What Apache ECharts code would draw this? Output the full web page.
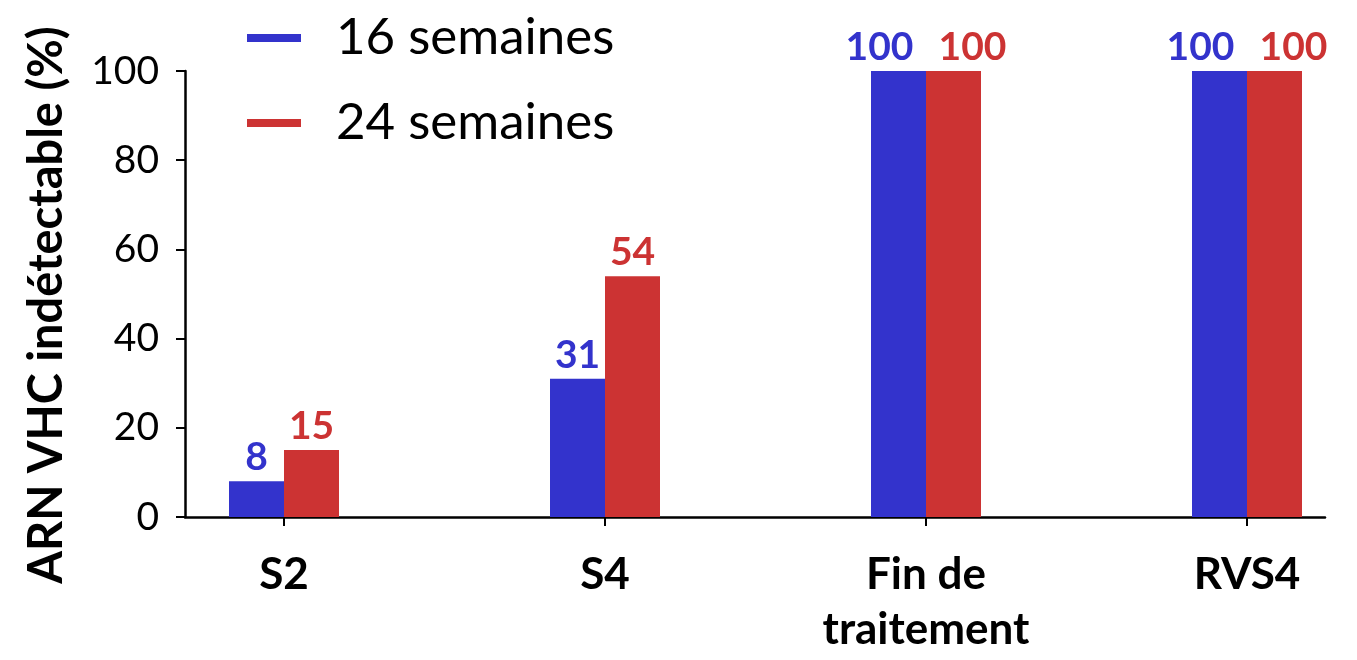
<!DOCTYPE html>
<html>
<head>
<meta charset="utf-8">
<script src="https://cdn.jsdelivr.net/npm/echarts@6/dist/echarts.min.js"></script>
<style>
  html, body { margin: 0; padding: 0; background: #fff; }
  #chart { width: 1357px; height: 660px; }
</style>
</head>
<body>
<div id="chart"></div>
<script>
// data
const categories = ['S2', 'S4', 'Fin de\ntraitement', 'RVS4']
const weeks16 = [8, 31, 100, 100]
const weeks24 = [15, 54, 100, 100]
const yTicks = [0, 20, 40, 60, 80, 100]

const FONT = 'Lato, "Open Sans", sans-serif'
const BLUE = '#3333CC'
const RED = '#CC3333'

const chart = echarts.init(document.getElementById('chart'))

const barLabel = color => ({
  show: true,
  position: 'top',
  distance: 4,
  color: color,
  fontFamily: FONT,
  fontWeight: 'bold',
  fontSize: 39
})

// wide labels (100) are pushed apart so they don't overlap
const withLabelShift = (values, dir) => values.map(v => ({
  value: v,
  label: { offset: [v >= 100 ? dir * 19 : 0, 0] }
}))

chart.setOption({
  animation: false,
  backgroundColor: '#fff',
  legend: {
    orient: 'vertical',
    left: 247,
    top: 8,
    padding: 0,
    itemWidth: 54,
    itemHeight: 8,
    itemGap: 25,
    icon: 'rect',
    textStyle: {
      fontFamily: FONT,
      fontSize: 51,
      lineHeight: 60,
      color: '#000',
      padding: [0, 0, 0, 30]
    },
    data: ['16 semaines', '24 semaines']
  },
  grid: [
    // axes frame
    { left: 185, right: 32, top: 71, bottom: 143, outerBoundsMode: 'none' },
    // bar layout, bands wider than the frame so the groups line up with the ticks
    { left: 123.5, width: 1284, top: 71, bottom: 143, outerBoundsMode: 'none' }
  ],
  xAxis: [
    {
      gridIndex: 0,
      type: 'value',
      min: 0,
      max: 1,
      axisLine: { show: true, lineStyle: { color: '#000', width: 2.5 } },
      axisTick: { show: false },
      axisLabel: { show: false },
      splitLine: { show: false }
    },
    {
      gridIndex: 1,
      type: 'category',
      data: categories,
      axisLine: { show: false },
      axisTick: { show: true, alignWithLabel: true, length: 9, lineStyle: { color: '#000', width: 2 } },
      axisLabel: {
        margin: 30,
        color: '#000',
        fontFamily: FONT,
        fontWeight: 'bold',
        fontSize: 44,
        lineHeight: 55,
        interval: 0
      },
      splitLine: { show: false }
    }
  ],
  yAxis: [
    {
      gridIndex: 0,
      type: 'value',
      min: yTicks[0],
      max: yTicks[yTicks.length - 1],
      interval: yTicks[1] - yTicks[0],
      name: 'ARN VHC indétectable (%)',
      nameLocation: 'middle',
      nameRotate: 90,
      nameGap: 115,
      nameTextStyle: {
        color: '#000',
        fontFamily: FONT,
        fontWeight: 'bold',
        fontSize: 47,
        padding: [0, 22, 0, 0]
      },
      axisLine: { show: true, lineStyle: { color: '#000', width: 2.5 } },
      axisTick: { show: true, length: 9, lineStyle: { color: '#000', width: 2 } },
      axisLabel: { margin: 26, color: '#000', fontFamily: FONT, fontSize: 39 },
      splitLine: { show: false }
    },
    {
      gridIndex: 1,
      type: 'value',
      min: yTicks[0],
      max: yTicks[yTicks.length - 1],
      show: false
    }
  ],
  series: [
    {
      name: '16 semaines',
      type: 'bar',
      xAxisIndex: 1,
      yAxisIndex: 1,
      data: withLabelShift(weeks16, -1),
      barWidth: 55,
      barGap: '0%',
      itemStyle: { color: BLUE },
      label: barLabel(BLUE)
    },
    {
      name: '24 semaines',
      type: 'bar',
      xAxisIndex: 1,
      yAxisIndex: 1,
      data: withLabelShift(weeks24, 1),
      barWidth: 55,
      barGap: '0%',
      itemStyle: { color: RED },
      label: barLabel(RED)
    }
  ]
})
</script>
</body>
</html>
